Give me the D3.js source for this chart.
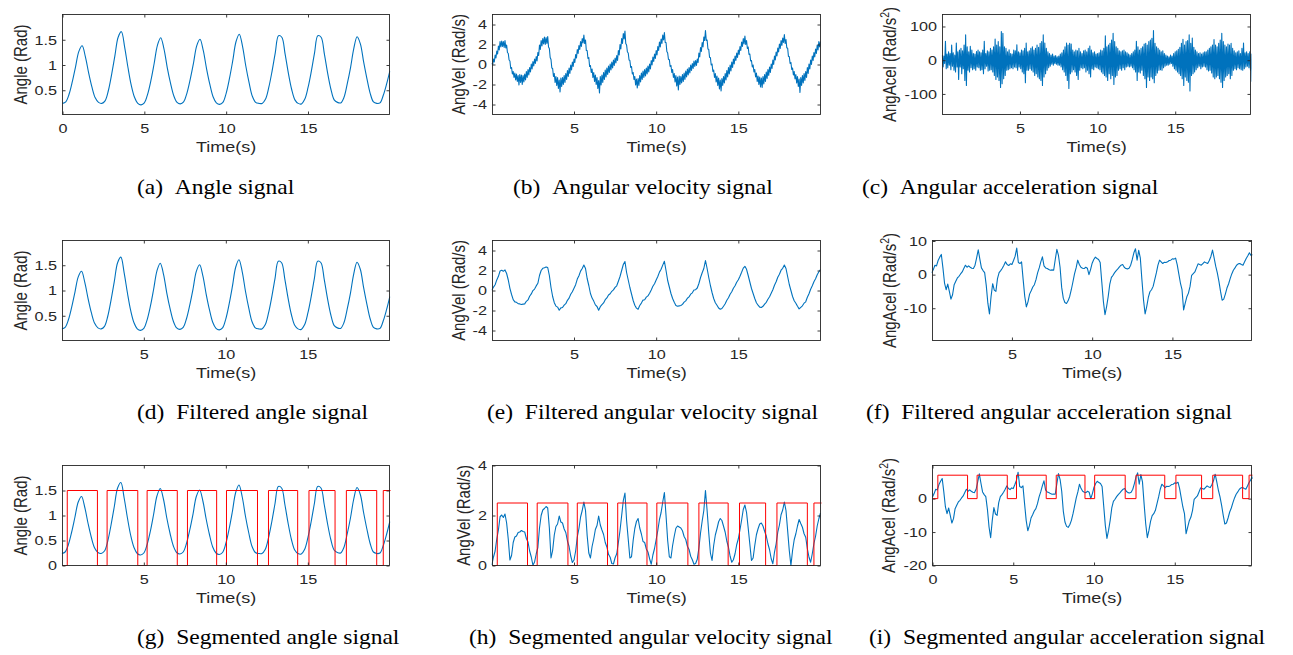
<!DOCTYPE html>
<html><head><meta charset="utf-8">
<script src="https://cdn.jsdelivr.net/npm/d3@7"></script>
<style>
body{margin:0;background:#fff;}
svg{display:block;}
</style></head><body>
<svg id="c" width="1293" height="655"></svg>
<script>
// ---------- DATA ----------
// Angle (Rad), sampled every 0.2 s from t = 0 to 20
const angle = [0.24,0.27,0.42,0.67,0.97,1.27,1.38,1.16,0.84,0.56,
0.35,0.26,0.24,0.29,0.49,0.81,1.18,1.55,1.66,1.35,
0.95,0.60,0.36,0.24,0.21,0.25,0.42,0.69,1.03,1.39,
1.54,1.32,0.95,0.64,0.39,0.26,0.23,0.27,0.44,0.71,
1.03,1.38,1.51,1.29,0.93,0.62,0.37,0.25,0.22,0.26,
0.44,0.73,1.08,1.46,1.61,1.37,0.98,0.65,0.38,0.26,
0.24,0.24,0.32,0.55,0.87,1.24,1.58,1.55,1.22,0.84,
0.52,0.31,0.24,0.23,0.32,0.55,0.87,1.24,1.58,1.55,
1.22,0.84,0.52,0.31,0.26,0.25,0.36,0.63,0.95,1.33,
1.56,1.42,1.06,0.73,0.44,0.27,0.24,0.25,0.40,0.62,0.88];

// Raw angular velocity (Rad/s), every 0.05 s from t = 0 to 20
const angVelRaw = [0.15,-0.05,0.55,0.25,0.95,0.65,1.35,1.05,1.85,1.45,
2.30,1.75,2.35,1.80,2.30,1.70,2.40,1.65,1.95,1.20,
1.10,0.45,0.35,-0.40,-0.30,-0.95,-0.70,-1.30,-0.85,-1.55,
-0.95,-1.70,-1.10,-2.05,-1.00,-1.80,-1.05,-2.00,-1.10,-1.75,
-0.95,-1.55,-0.70,-1.30,-0.50,-1.05,-0.30,-0.75,0.05,-0.45,
0.30,-0.15,0.55,0.10,0.80,0.35,1.20,0.90,1.95,1.50,
2.40,1.85,2.60,2.05,2.75,2.00,2.70,2.10,2.80,1.75,
1.60,0.70,0.50,-0.35,-0.40,-1.20,-0.90,-1.80,-1.20,-2.10,
-1.30,-2.40,-1.55,-2.75,-1.35,-2.20,-1.30,-2.00,-1.10,-1.80,
-0.90,-1.50,-0.60,-1.20,-0.35,-0.90,-0.05,-0.55,0.25,-0.20,
0.55,0.20,1.00,0.65,1.50,1.10,1.90,1.50,2.30,1.80,
2.60,2.15,2.95,2.10,2.45,1.40,1.40,0.60,0.70,-0.20,
-0.10,-0.80,-0.45,-1.30,-0.80,-1.70,-1.05,-2.00,-1.30,-2.40,
-1.60,-2.85,-1.20,-2.05,-1.05,-1.80,-0.80,-1.50,-0.55,-1.25,
-0.35,-1.00,-0.15,-0.80,0.05,-0.55,0.25,-0.35,0.45,-0.10,
0.65,0.15,0.90,0.40,1.40,0.95,2.00,1.55,2.60,2.10,
3.10,2.55,3.35,2.10,1.95,1.25,1.15,0.45,0.40,-0.30,
-0.20,-0.95,-0.80,-1.50,-1.20,-2.05,-1.45,-2.35,-1.40,-2.10,
-1.10,-1.75,-0.85,-1.50,-0.65,-1.30,-0.50,-1.15,-0.35,-0.95,
-0.15,-0.75,0.05,-0.45,0.40,-0.05,0.75,0.30,1.05,0.60,
1.40,0.95,1.80,1.40,2.25,1.75,2.55,2.10,2.95,2.45,
3.20,2.20,2.20,1.30,1.15,0.50,0.50,-0.20,-0.10,-0.80,
-0.50,-1.30,-0.90,-1.75,-1.10,-2.15,-1.25,-2.55,-1.15,-2.00,
-1.20,-1.85,-1.00,-1.70,-0.85,-1.50,-0.65,-1.25,-0.45,-1.05,
-0.30,-0.85,-0.05,-0.60,0.10,-0.40,0.35,-0.20,0.40,-0.10,
0.55,0.20,1.15,0.75,1.70,1.30,2.20,1.75,2.75,2.40,
3.40,2.40,2.45,1.55,1.50,0.70,0.70,-0.05,0.05,-0.70,
-0.55,-1.30,-0.90,-1.75,-1.15,-2.10,-1.35,-2.45,-1.55,-2.65,
-1.40,-2.10,-1.20,-1.85,-0.90,-1.55,-0.60,-1.25,-0.30,-0.95,
-0.05,-0.65,0.25,-0.30,0.55,0.05,0.85,0.40,1.15,0.70,
1.45,1.00,1.80,1.40,2.25,1.80,2.60,2.05,2.85,2.00,
2.40,1.60,1.75,1.00,1.05,0.35,0.40,-0.25,-0.05,-0.75,
-0.50,-1.25,-0.85,-1.70,-1.15,-2.00,-1.25,-2.25,-1.35,-2.30,
-1.20,-1.95,-1.00,-1.70,-0.75,-1.40,-0.50,-1.10,-0.25,-0.80,
0.05,-0.40,0.45,0.00,0.85,0.45,1.25,0.85,1.65,1.25,
2.05,1.60,2.40,1.90,2.65,2.20,3.00,2.10,2.50,1.65,
1.65,0.80,0.80,0.10,0.20,-0.50,-0.35,-1.05,-0.70,-1.45,
-1.00,-1.85,-1.20,-2.20,-1.45,-2.80,-1.30,-2.10,-1.10,-1.85,
-0.90,-1.60,-0.70,-1.30,-0.30,-0.90,0.05,-0.45,0.45,0.00,
0.85,0.40,1.20,0.75,1.55,1.10,1.95,1.45,2.30,1.75,2.30];

// Filtered angular velocity (Rad/s), every 0.1 s from t = 0 to 20
const angVelFilt = [0.02,0.34,0.58,1.06,1.42,1.95,2.02,1.92,2.06,1.70,
1.05,0.22,-0.40,-0.92,-1.14,-1.18,-1.32,-1.34,-1.40,-1.36,
-1.34,-1.08,-0.94,-0.58,-0.34,-0.01,0.14,0.46,0.72,1.50,
2.00,2.22,2.28,2.36,2.30,1.50,0.30,-0.60,-1.22,-1.56,
-1.66,-1.98,-1.74,-1.70,-1.46,-1.32,-0.98,-0.76,-0.38,-0.12,
0.22,0.58,1.14,1.48,1.94,2.20,2.54,2.20,1.20,0.50,
-0.30,-0.76,-1.06,-1.44,-1.60,-1.98,-1.62,-1.42,-1.24,-0.92,
-0.74,-0.45,-0.33,-0.08,0.06,0.31,0.47,0.92,1.40,2.00,
2.60,2.90,1.80,1.05,0.30,-0.35,-1.00,-1.48,-1.76,-1.88,
-1.50,-1.26,-0.96,-0.92,-0.66,-0.54,-0.27,0.05,0.42,0.68,
1.04,1.40,1.84,2.12,2.54,2.92,2.00,1.00,0.35,-0.30,
-0.80,-1.17,-1.49,-1.58,-1.54,-1.50,-1.39,-1.16,-1.04,-0.77,
-0.64,-0.37,-0.23,0.05,0.08,0.25,0.70,1.30,1.78,2.20,
3.00,2.20,1.30,0.50,-0.20,-0.80,-1.22,-1.47,-1.75,-1.88,
-1.80,-1.57,-1.33,-0.97,-0.73,-0.37,-0.13,0.23,0.47,0.83,
1.07,1.43,1.82,2.24,2.42,2.12,1.50,0.85,0.20,-0.30,
-0.80,-1.23,-1.47,-1.66,-1.70,-1.58,-1.37,-1.18,-0.87,-0.63,
-0.27,0.07,0.53,0.87,1.33,1.62,2.03,2.22,2.54,2.20,
1.40,0.60,0.00,-0.60,-1.03,-1.27,-1.58,-1.84,-1.68,-1.53,
-1.27,-1.13,-0.67,-0.33,0.13,0.47,0.88,1.17,1.58,1.87,2.10];

// Raw angular acceleration (Rad/s^2), every 0.05 s from t = 0 to 20
const angAccRaw = [15,-20,12,-10,56,-25,18,-22,25,-15,
20,-28,45,-18,22,-30,15,-35,51,-20,
25,-57,30,-20,35,-40,28,-25,45,-60,
75,-75,40,-30,25,-35,41,-22,30,-28,
20,-25,18,-30,26,-20,30,-22,25,-30,
22,-28,30,-40,56,-25,20,-18,28,-32,
25,-30,35,-28,30,-35,40,-45,63,-57,
45,-50,55,-60,40,-81,85,-70,80,-55,
40,-45,35,-30,25,-28,31,-25,20,-22,
18,-25,30,-20,28,-22,46,-30,25,-20,
22,-25,30,-35,28,-40,35,-67,51,-30,
25,-30,28,-25,35,-30,40,-35,30,-45,
35,-40,45,-50,38,-55,50,-60,55,-75,
75,-50,51,-40,35,-30,25,-22,20,-18,
15,-12,18,-15,12,-10,14,-12,10,-15,
12,-15,18,-20,22,-28,30,-35,40,-45,
51,-60,45,-84,50,-40,48,-35,30,-28,
25,-35,30,-45,28,-57,35,-30,25,-22,
20,-25,28,-22,30,-35,25,-30,35,-40,
42,-50,30,-25,22,-28,25,-20,18,-22,
20,-25,22,-28,30,-35,28,-40,35,-45,
72,-50,40,-60,45,-40,50,-55,60,-45,
80,-72,55,-50,40,-45,35,-30,28,-25,
25,-30,28,-22,30,-28,25,-20,22,-18,
18,-20,15,-18,20,-22,25,-28,30,-35,
56,-60,40,-35,30,-38,35,-30,40,-45,
48,-55,50,-81,45,-50,55,-60,60,-50,
65,-55,88,-67,50,-45,40,-38,35,-30,
30,-28,25,-30,28,-22,20,-18,15,-15,
12,-15,10,-12,15,-10,12,-18,20,-25,
25,-30,28,-35,32,-40,38,-45,50,-55,
62,-75,45,-50,55,-60,58,-65,75,-91,
50,-45,66,-40,38,-35,30,-28,25,-22,
20,-18,22,-25,18,-20,22,-18,25,-20,
25,-28,30,-32,35,-30,40,-38,45,-50,
61,-55,45,-50,40,-45,50,-55,60,-65,
80,-81,55,-60,45,-50,40,-45,48,-40,
45,-55,50,-45,35,-30,28,-25,22,-28,
25,-22,28,-25,20,-28,35,-30,51,-25,
22,-20,25,-18,20,-22,25,-30,18,-62,-62];

// Filtered angular acceleration (Rad/s^2), every 0.1 s from t = 0 to 20
const angAccFilt = [0.5,1.5,2.8,2.6,4.2,5.2,6.0,2.0,-2.5,-4.5,
-2.8,-5.0,-7.3,-6.0,-3.0,-2.0,-1.0,-0.5,0.2,0.8,
1.8,2.8,2.2,2.6,2.2,1.9,1.8,2.8,5.0,7.4,
4.6,2.0,1.2,0.6,-3.2,-8.5,-11.7,-6.5,-2.7,-4.6,
-5.0,-1.2,0.6,1.2,1.9,2.8,3.8,3.0,2.7,3.2,
3.0,4.2,5.5,7.9,3.6,3.3,3.8,-1.5,-6.5,-9.6,
-8.1,-5.8,-4.8,-3.7,-3.0,-1.5,0.5,2.0,3.8,5.3,
2.6,2.0,1.8,1.5,1.3,1.4,1.3,4.5,7.5,5.7,
2.2,-3.8,-7.0,-8.3,-8.6,-7.8,-6.5,-4.5,-2.2,0.2,
2.0,4.3,3.0,2.2,1.9,1.8,2.2,1.9,0.0,1.5,
3.4,4.5,5.2,4.8,4.5,3.6,-2.2,-8.0,-11.9,-9.5,
-6.5,-2.8,-0.8,-0.2,0.6,1.2,1.7,2.3,2.8,3.0,
2.2,1.8,1.7,1.9,2.8,4.5,6.5,7.7,4.3,7.2,
5.0,-1.5,-7.5,-11.7,-9.5,-6.8,-5.1,-4.5,-3.5,-1.5,
0.5,2.8,4.3,3.8,3.3,3.7,3.6,3.8,4.2,4.3,
4.7,4.6,4.9,3.0,0.2,-2.5,-4.5,-10.5,-8.5,-6.6,
-5.5,-3.5,-0.2,0.3,0.8,2.0,3.2,3.0,2.8,3.3,
3.8,3.5,3.3,4.2,5.4,7.3,5.0,2.5,0.5,-2.0,
-5.0,-7.6,-7.3,-5.8,-4.0,-2.8,-1.2,0.2,1.3,2.0,
2.8,3.2,3.3,3.0,2.8,3.8,4.8,5.6,6.5,5.7,6.0];

// Segmentation windows (start, end) in seconds
const segStarts = [0.33,2.76,5.20,7.66,10.04,12.60,15.07,17.35,19.60];
const segEnds   = [2.17,4.63,7.04,9.44,11.93,14.38,16.66,19.20,20.50];

// Tick labels
const xTicks0 = [0,5,10,15];
const xTicks  = [5,10,15];
const yTicksAngle = [0.5,1,1.5];
const yTicksAngleSeg = [0,0.5,1,1.5];
const yTicksVel = [-4,-2,0,2,4];
const yTicksVelSeg = [0,2,4];
const yTicksAccRaw = [-100,0,100];
const yTicksAccFilt = [-10,0,10];
const yTicksAccSeg = [-20,-10,0];

const captions = [
 ["(a)","Angle signal"],["(b)","Angular velocity signal"],["(c)","Angular acceleration signal"],
 ["(d)","Filtered angle signal"],["(e)","Filtered angular velocity signal"],["(f)","Filtered angular acceleration signal"],
 ["(g)","Segmented angle signal"],["(h)","Segmented angular velocity signal"],["(i)","Segmented angular acceleration signal"]
];
const yLabels = {angle:"Angle (Rad)", vel:"AngVel (Rad/s)", acc:"AngAcel (Rad/s"};

// ---------- LAYOUT ----------
const BLUE = "#0072BD", RED = "#ff0000", INK = "#262626";
const rows = [[14.5,114.5],[240.5,340.5],[465.5,565.5]];
const capBase = [194, 419, 644];

const panels = [
 {L:62.5,R:389.5,row:0,xd:[0,19.98],yd:[0.02,2],xt:xTicks0,yt:yTicksAngle,lab:"angle",lx:21,data:angle,dt:0.2,smooth:true,cap:0,cx:137},
 {L:492.5,R:820.5,row:0,xd:[0.04,20],yd:[-5,5],xt:xTicks,yt:yTicksVel,lab:"vel",lx:459,data:angVelRaw,dt:0.05,cap:1,cx:513},
 {L:942.5,R:1250.5,row:0,xd:[0.01,19.85],yd:[-161,135.5],xt:xTicks,yt:yTicksAccRaw,lab:"acc",lx:890,data:angAccRaw,dt:0.05,cap:2,cx:862},
 {L:62.5,R:389.5,row:1,xd:[0.04,19.98],yd:[0.01,1.99],xt:xTicks,yt:yTicksAngle,lab:"angle",lx:21,data:angle,dt:0.2,smooth:true,cap:3,cx:137},
 {L:492.5,R:820.5,row:1,xd:[0.04,20],yd:[-5,5],xt:xTicks,yt:yTicksVel,lab:"vel",lx:459,data:angVelFilt,dt:0.1,cap:4,cx:487},
 {L:932.5,R:1251.5,row:1,xd:[0.05,19.93],yd:[-19.6,10.15],xt:xTicks,yt:yTicksAccFilt,lab:"acc",lx:890,data:angAccFilt,dt:0.1,cap:5,cx:866},
 {L:62.5,R:389.5,row:2,xd:[0.04,19.98],yd:[0,2],xt:xTicks,yt:yTicksAngleSeg,lab:"angle",lx:21,data:angle,dt:0.2,smooth:true,seg:1.5,cap:6,cx:137},
 {L:492.5,R:820.5,row:2,xd:[0.04,20],yd:[0,4],xt:xTicks,yt:yTicksVelSeg,lab:"vel",lx:464,data:angVelFilt.map(Math.abs),dt:0.1,seg:2.5,cap:7,cx:469},
 {L:932.5,R:1251.5,row:2,xd:[0,19.75],yd:[-20,9.9],xt:xTicks0,yt:yTicksAccSeg,lab:"acc",lx:889,data:angAccFilt,dt:0.1,seg:7,cap:8,cx:869}
];

const svg = d3.select("#c");
const fmt = d => String(d);

panels.forEach((p, i) => {
  const T = rows[p.row][0], B = rows[p.row][1];
  const x = d3.scaleLinear().domain(p.xd).range([p.L, p.R]);
  const y = d3.scaleLinear().domain(p.yd).range([B, T]);
  const g = svg.append("g");
  const cid = "clip" + i;
  svg.append("clipPath").attr("id", cid).append("rect")
    .attr("x", p.L - 1).attr("y", T - 1).attr("width", p.R - p.L + 2).attr("height", B - T + 2);

  const pts = p.data.map((v, k) => [k * p.dt, v]);
  const line = d3.line().x(d => x(d[0])).y(d => y(d[1]))
    .curve(p.smooth ? d3.curveCatmullRom : d3.curveLinear);
  g.append("path").attr("clip-path", `url(#${cid})`).attr("d", line(pts))
    .attr("fill", "none").attr("stroke", BLUE).attr("stroke-width", 1.1).attr("stroke-linejoin", "round");

  if (p.seg !== undefined) {
    const sp = [[p.xd[0], 0]];
    segStarts.forEach((s, k) => {
      const e = segEnds[k];
      sp.push([s, 0], [s, p.seg], [e, p.seg], [e, 0]);
    });
    const sl = d3.line().x(d => x(d[0])).y(d => y(d[1]));
    g.append("path").attr("clip-path", `url(#${cid})`).attr("d", sl(sp))
      .attr("fill", "none").attr("stroke", RED).attr("stroke-width", 1);
  }

  // axes
  const ax = [];
  ax.push(g.append("g").attr("transform", `translate(0,${B})`)
    .call(d3.axisBottom(x).tickValues(p.xt).tickSizeInner(-3).tickSizeOuter(0).tickPadding(8.9).tickFormat(fmt)));
  ax.push(g.append("g").attr("transform", `translate(${p.L},0)`)
    .call(d3.axisLeft(y).tickValues(p.yt).tickSizeInner(-3).tickSizeOuter(0).tickPadding(4.6).tickFormat(fmt)));
  ax.push(g.append("g").attr("transform", `translate(0,${T})`)
    .call(d3.axisTop(x).tickValues(p.xt).tickSizeInner(-3).tickSizeOuter(0).tickFormat(() => "")));
  ax.push(g.append("g").attr("transform", `translate(${p.R},0)`)
    .call(d3.axisRight(y).tickValues(p.yt).tickSizeInner(-3).tickSizeOuter(0).tickFormat(() => "")));
  ax.forEach(a => {
    a.select(".domain").remove();
    a.selectAll(".tick line").attr("stroke", INK).attr("stroke-width", 0.9);
    a.selectAll(".tick text").attr("fill", INK).attr("font-family", "'Liberation Sans', Arial, sans-serif")
      .attr("font-size", 13.5).attr("transform", "scale(1.2,1)");
  });

  g.append("rect").attr("x", p.L).attr("y", T).attr("width", p.R - p.L).attr("height", B - T)
    .attr("fill", "none").attr("stroke", INK).attr("stroke-width", 0.9);

  // x label
  g.append("text").attr("transform", `translate(${(p.L + p.R) / 2},${B + 37}) scale(1.2,1)`)
    .attr("text-anchor", "middle").attr("font-family", "'Liberation Sans', Arial, sans-serif")
    .attr("font-size", 15).attr("fill", INK).text("Time(s)");

  // y label
  const yl = g.append("text").attr("transform", `translate(${p.lx + 6.4},${(T + B) / 2}) scale(1.2,1) rotate(-90)`)
    .attr("text-anchor", "middle").attr("font-family", "'Liberation Sans', Arial, sans-serif")
    .attr("font-size", 15).attr("fill", INK);
  yl.append("tspan").text(yLabels[p.lab]);
  if (p.lab === "acc") {
    yl.append("tspan").attr("font-size", 10.5).attr("dy", -6).text("2");
    yl.append("tspan").attr("dy", 6).text(")");
  }

  // caption
  const c = captions[p.cap];
  svg.append("text").attr("transform", `translate(${p.cx},${capBase[p.row]}) scale(1.12,1)`)
    .attr("font-family", "'Liberation Serif', 'Times New Roman', serif").attr("font-size", 21)
    .attr("fill", "#000").style("white-space", "pre").text(c[0] + "\u2002" + c[1]);
});
</script>
</body></html>
